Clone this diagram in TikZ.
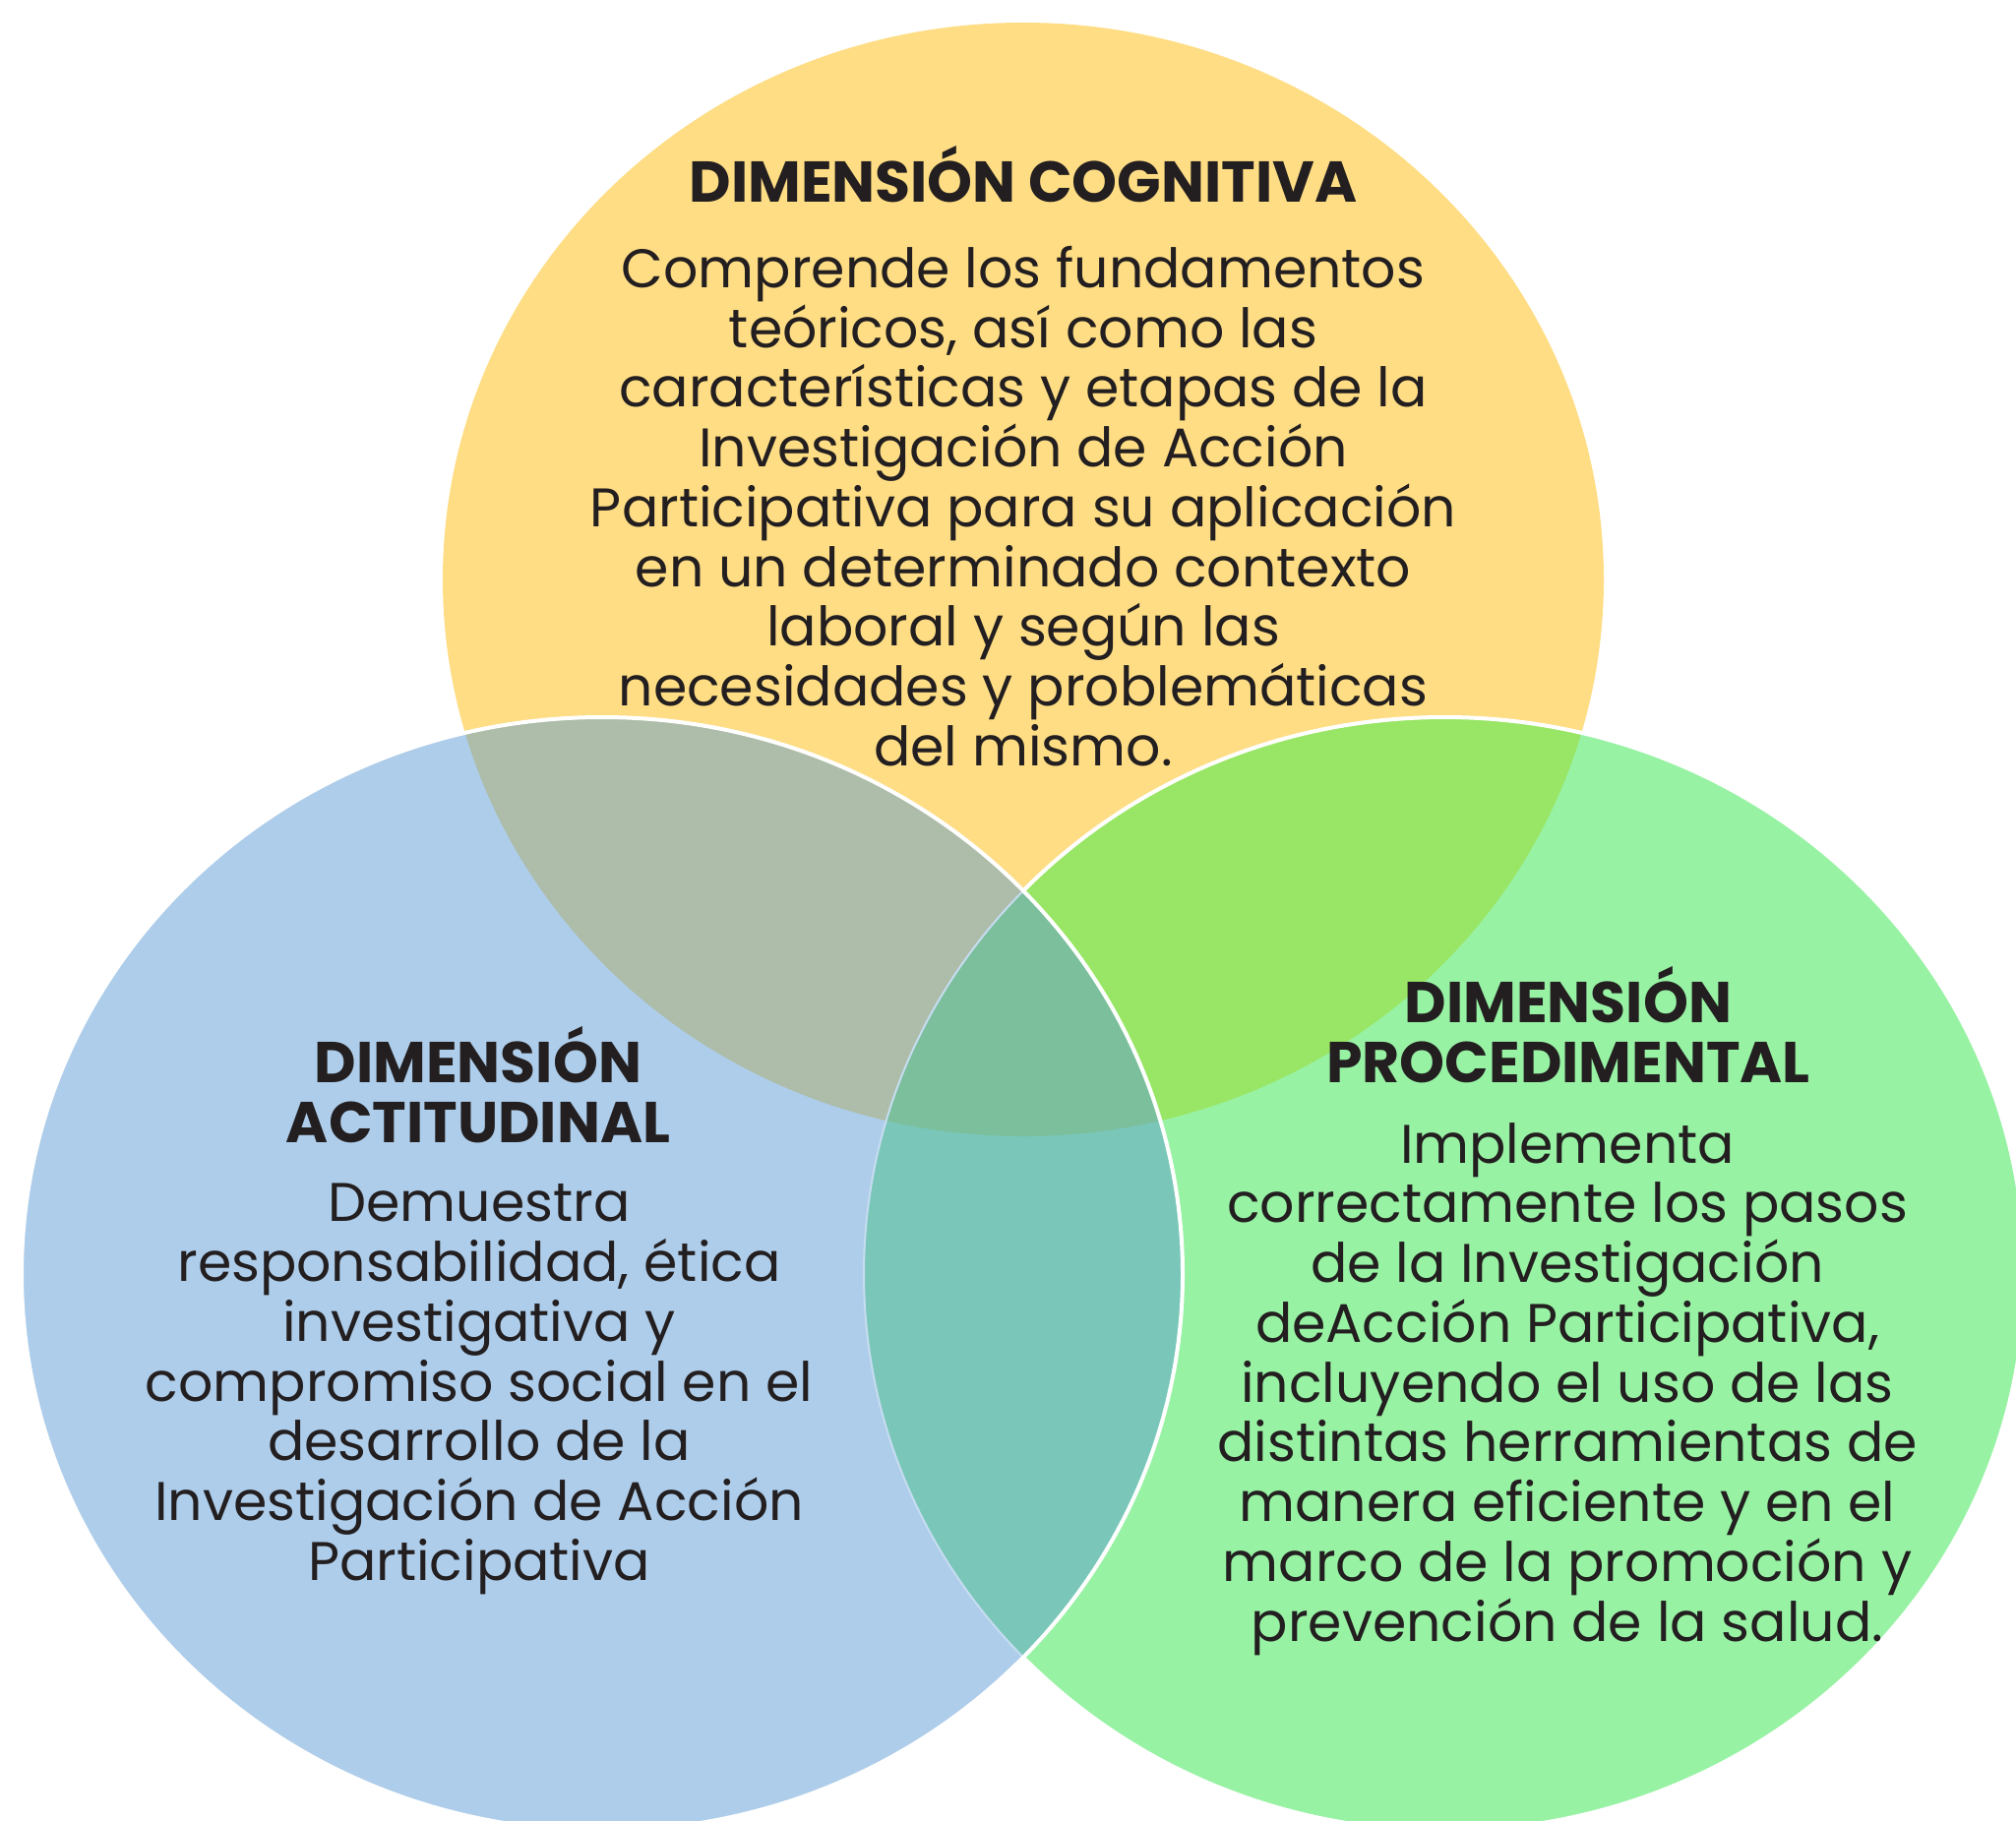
\documentclass[tikz,border=0pt]{standalone}
\usepackage{fontspec}
\setmainfont{Poppins}
\definecolor{cogfill}{HTML}{FEDD84}
\definecolor{actfill}{HTML}{AECDEA}
\definecolor{profill}{HTML}{98F2A4}
\definecolor{cogact}{HTML}{ADBDA9}
\definecolor{cogpro}{HTML}{99E666}
\definecolor{actpro}{HTML}{7AC7BA}
\definecolor{allfill}{HTML}{7BBF9C}
\definecolor{ink}{HTML}{231F20}
\tikzstyle{ring} = [x radius=590, y radius=566]
\tikzstyle{rim} = [draw=white, line width=4]
\tikzstyle{heading} = [font=\fontsize{58.5}{61}\selectfont\bfseries, text=ink, align=center, inner sep=0pt]
\tikzstyle{bodytext} = [font=\fontsize{55.3}{60.75}\selectfont, text=ink, align=center, inner sep=0pt, anchor=north]

\begin{document}
\begin{tikzpicture}[x=1pt, y=-1pt]
	\clip (0, 0) rectangle (2049, 1851);
	\coordinate (cog) at (1040, 589);
	\coordinate (act) at (612, 1295);
	\coordinate (pro) at (1468, 1295);

	\fill[cogfill] (cog) ellipse [ring];
	\fill[profill] (pro) ellipse [ring];
	\begin{scope}
		\clip (cog) ellipse [ring];
		\fill[cogpro] (pro) ellipse [ring];
	\end{scope}
	\draw[rim] (pro) ellipse [ring];
	\fill[actfill] (act) ellipse [ring];
	\begin{scope}
		\clip (act) ellipse [ring];
		\fill[cogact] (cog) ellipse [ring];
		\fill[actpro] (pro) ellipse [ring];
		\begin{scope}
			\clip (cog) ellipse [ring];
			\fill[allfill] (pro) ellipse [ring];
		\end{scope}
		\draw[actfill!70!white, line width=2] (pro) ellipse [ring];
	\end{scope}
	\draw[rim] (act) ellipse [ring];

	\node[heading, anchor=base](cogtitle) at (1040, 206){DIMENSIÓN COGNITIVA};
	\node[bodytext](cogtext) at (1040, 250){Comprende los fundamentos\\teóricos, así como las\\características y etapas de la\\Investigación de Acción\\Participativa para su aplicación\\en un determinado contexto\\laboral y según las\\necesidades y problemáticas\\del mismo.};
	\node[heading, anchor=north](acttitle) at (486, 1043){DIMENSIÓN\\ACTITUDINAL};
	\node[bodytext](acttext) at (487, 1203){Demuestra\\responsabilidad, ética\\investigativa y\\compromiso social en el\\desarrollo de la\\Investigación de Acción\\Participativa};
	\node[heading, anchor=north](protitle) at (1594, 982){DIMENSIÓN\\PROCEDIMENTAL};
	\node[bodytext](protext) at (1593, 1141){Implementa\\correctamente los pasos\\de la Investigación\\deAcción Participativa,\\incluyendo el uso de las\\distintas herramientas de\\manera eficiente y en el\\marco de la promoción y\\prevención de la salud.};
\end{tikzpicture}
\end{document}
